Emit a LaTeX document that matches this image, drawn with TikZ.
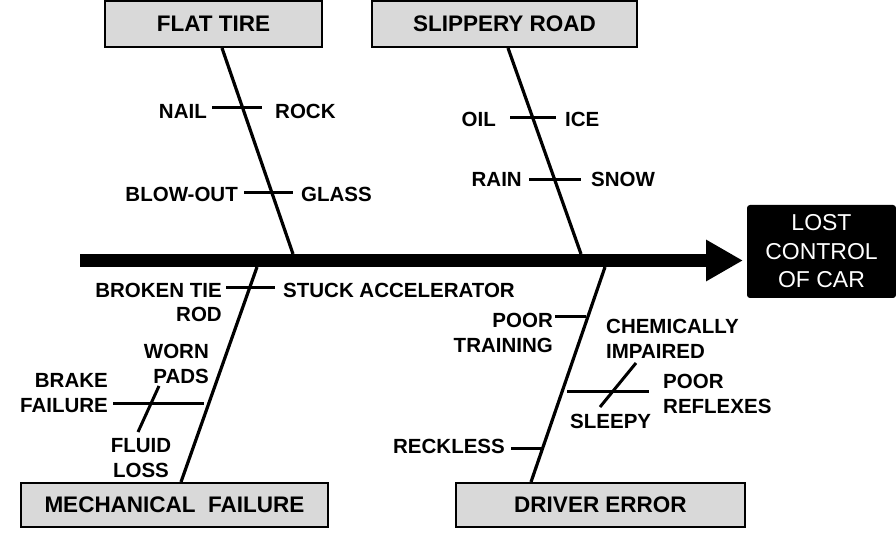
\documentclass[tikz,border=0pt]{standalone}
\usepackage{fontspec}
\setmainfont{Liberation Sans}
\usetikzlibrary{arrows.meta}
\definecolor{boxgray}{RGB}{217,217,217}
\begin{document}
\begin{tikzpicture}[x=1pt,y=-1pt,
  cat/.style={draw=black, line width=2pt, fill=boxgray, inner sep=0pt, font=\bfseries\fontsize{22.5}{27}\selectfont},
  lbl/.style={inner sep=0pt, font=\bfseries\fontsize{20.5}{24.5}\selectfont},
  bone/.style={line width=3.2pt},
  sub/.style={line width=3pt},
  spine/.style={line width=13pt, -{Triangle[length=37pt,width=39pt]}},
]
\useasboundingbox (0,0) rectangle (896,534);
\fill[white] (0,0) rectangle (896,534);

% category boxes
\node[cat, minimum width=217pt, minimum height=46pt] (flat) at (213.5,24) {FLAT TIRE};
\node[cat, minimum width=265pt, minimum height=46pt] (slip) at (504.5,24) {SLIPPERY ROAD};
\node[cat, minimum width=307pt, minimum height=44pt] (mech) at (174.5,505) {MECHANICAL~~FAILURE};
\node[cat, minimum width=289pt, minimum height=44pt] (drv) at (600.5,505) {DRIVER ERROR};
\node[fill=black, rounded corners=3pt, minimum width=149pt, minimum height=93pt, text=white,
  align=center, inner sep=0pt, font=\fontsize{23}{28.5}\selectfont] (lost) at (821.5,251.5) {LOST\\CONTROL\\OF CAR};

% spine
\coordinate (s0) at (80,260.5);
\coordinate (s1) at (743,260.5);
\draw[spine] (s0) -- (s1);

% bones
\coordinate (ftT) at (222,47);  \coordinate (ftB) at (293,254);
\coordinate (srT) at (508,47);  \coordinate (srB) at (581,254);
\coordinate (mfT) at (257,267); \coordinate (mfB) at (181,483);
\coordinate (deT) at (605,267); \coordinate (deB) at (531,483);
\draw[bone] (flat.south -| ftT) -- (ftB);
\draw[bone] (slip.south -| srT) -- (srB);
\draw[bone] (mfT) -- (mech.north -| mfB);
\draw[bone] (deT) -- (drv.north -| deB);

% flat tire causes
\node[lbl, anchor=base east] (nail) at (207,119) {NAIL};
\node[lbl, anchor=base west] (rock) at (275,119) {ROCK};
\coordinate (n1) at (212,108); \coordinate (n2) at (262,108);
\draw[sub] (n1) -- (n2);
\node[lbl, anchor=base east] (blow) at (238,202) {BLOW-OUT};
\node[lbl, anchor=base west] (glass) at (301,202) {GLASS};
\coordinate (b1) at (244,193); \coordinate (b2) at (293,193);
\draw[sub] (b1) -- (b2);

% slippery road causes
\node[lbl, anchor=base east] (oil) at (496,127) {OIL};
\node[lbl, anchor=base west] (ice) at (565,127) {ICE};
\coordinate (o1) at (510,118); \coordinate (o2) at (556,118);
\draw[sub] (o1) -- (o2);
\node[lbl, anchor=base east] (rain) at (522,187) {RAIN};
\node[lbl, anchor=base west] (snow) at (591,187) {SNOW};
\coordinate (r1) at (529,180); \coordinate (r2) at (581,180);
\draw[sub] (r1) -- (r2);

% mechanical failure causes
\node[lbl, anchor=base east, align=right] (tie) at (222,322) {BROKEN TIE\\ROD};
\node[lbl, anchor=base west] (stuck) at (283,298) {STUCK ACCELERATOR};
\coordinate (t1) at (226,288); \coordinate (t2) at (275,288);
\draw[sub] (t1) -- (t2);
\node[lbl, anchor=base east, align=right] (worn) at (209,383) {WORN\\PADS};
\node[lbl, anchor=base east, align=right] (brake) at (108,412) {BRAKE\\FAILURE};
\coordinate (k1) at (113,403); \coordinate (k2) at (204,403);
\draw[sub] (k1) -- (k2);
\coordinate (d1) at (138,432); \coordinate (d2) at (159,386);
\draw[sub] (d1) -- (d2);
\node[lbl, anchor=base, align=center] (fluid) at (141,477) {FLUID\\LOSS};

% driver error causes
\node[lbl, anchor=base east, align=right] (train) at (553,352) {POOR\\TRAINING};
\coordinate (p1) at (555,317); \coordinate (p2) at (586,317);
\draw[sub] (p1) -- (p2);
\node[lbl, anchor=base west, align=left] (chem) at (606,358) {CHEMICALLY\\IMPAIRED};
\node[lbl, anchor=base west, align=left] (refl) at (663,413) {POOR\\REFLEXES};
\node[lbl, anchor=base west] (sleepy) at (570,428) {SLEEPY};
\coordinate (e1) at (567,391); \coordinate (e2) at (649,391);
\draw[sub] (e1) -- (e2);
\coordinate (c1) at (600,407); \coordinate (c2) at (636,363);
\draw[sub] (c1) -- (c2);
\node[lbl, anchor=base east] (reck) at (505,453) {RECKLESS};
\coordinate (w1) at (511,448); \coordinate (w2) at (542,448);
\draw[sub] (w1) -- (w2);
\end{tikzpicture}
\end{document}
